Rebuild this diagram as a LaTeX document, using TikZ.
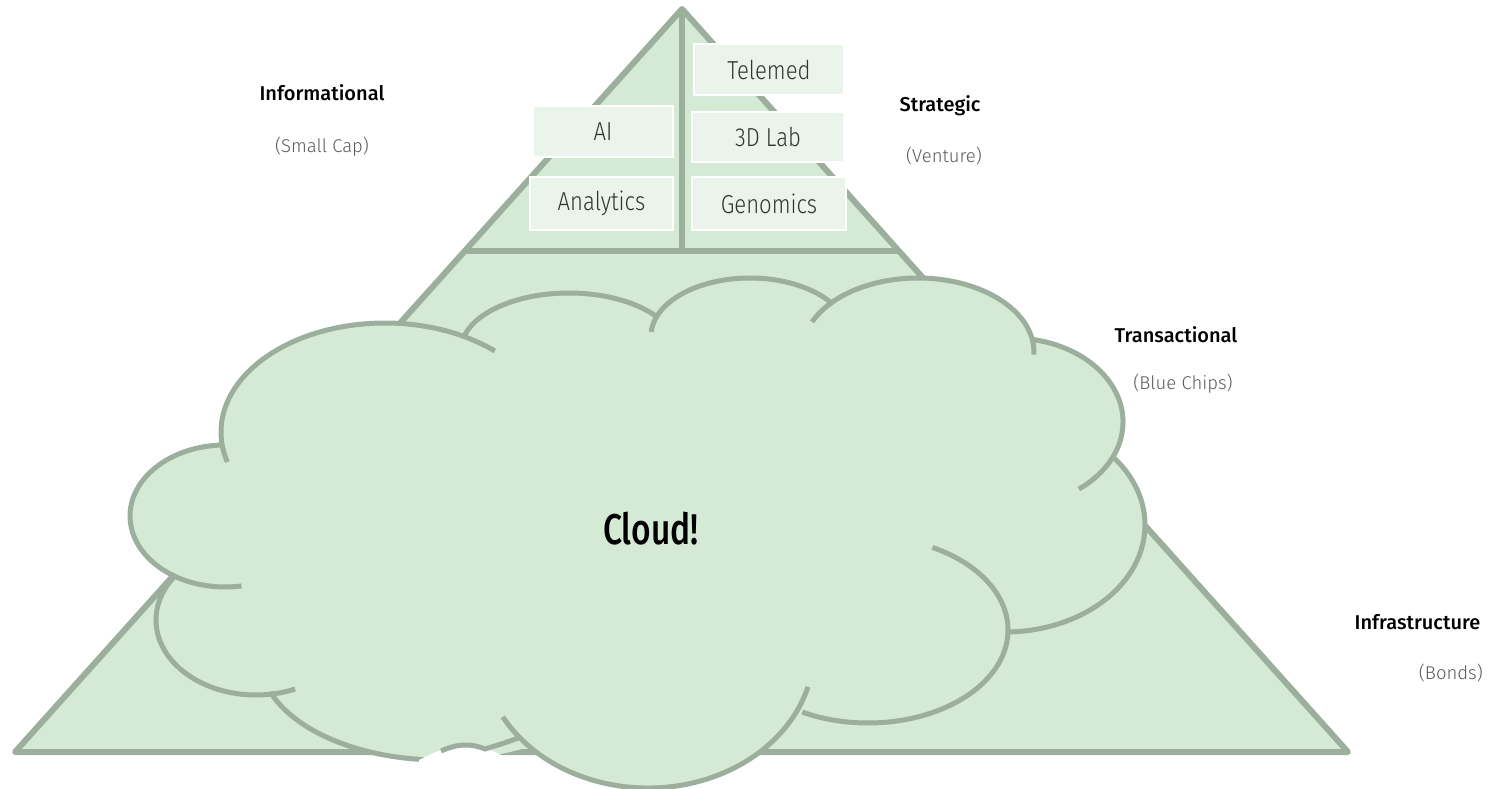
\documentclass[tikz,border=0pt]{standalone}
\usepackage{fontspec}
\setmainfont{Fira Sans}
\newfontfamily\lightfont{Fira Sans Light}
\newfontfamily\boxfont{Fira Sans Light}[FakeStretch=0.85]
\newfontfamily\medfont{Fira Sans Medium}
\newfontfamily\cloudfont{Fira Sans Medium}[FakeStretch=0.78]
\usetikzlibrary{calc}
\definecolor{lineg}{HTML}{9BAF9C}
\definecolor{fillg}{HTML}{D4EAD5}
\definecolor{boxg}{HTML}{EAF4EA}
\definecolor{textg}{HTML}{333333}
\definecolor{subg}{HTML}{5A5A5A}
\newcommand\cloudarc[6]{\draw[cloudline] ([shift={(#1,#2)}]#5:#3 and #4) arc[start angle=#5, end angle=#6, x radius=#3, y radius=#4];}
\newcommand\cloudfill[4]{\fill[fillg] (#1,#2) ellipse [x radius=#3, y radius=#4];}
\begin{document}
\begin{tikzpicture}[x=1pt,y=-1pt,
  edge/.style={draw=lineg, line width=6pt, line join=round},
  blk/.style={fill=boxg, draw=white, line width=2pt, inner sep=0pt, text=textg,
    font=\boxfont\fontsize{26}{26}\selectfont},
  head/.style={font=\medfont\fontsize{20}{20}\selectfont, text=black, inner sep=0pt},
  sub/.style={font=\lightfont\fontsize{18.5}{18.5}\selectfont, text=subg, inner sep=0pt},
  cloudline/.style={draw=lineg, line width=5pt}]
\useasboundingbox (0,0) rectangle (1488,789);
% pyramid
\coordinate (apex) at (682,9);
\coordinate (bl) at (15,752);
\coordinate (br) at (1348,752);
\filldraw[edge, fill=fillg] (apex) -- (bl) -- (br) -- cycle;
\coordinate (ml) at ($(apex)!0.3257!(bl)$);
\coordinate (mr) at ($(apex)!0.3257!(br)$);
\coordinate (mc) at (682,251);
\draw[edge] (ml) -- (mr);
\draw[edge] (apex) -- (mc);
% boxes
\node[blk, minimum width=150pt, minimum height=51pt] (telemed) at (769,69.5) {Telemed};
\node[blk, minimum width=140pt, minimum height=51pt] (ai) at (603,131.5) {AI};
\node[blk, minimum width=152pt, minimum height=50pt] (lab) at (768,137) {3D Lab};
\node[blk, minimum width=143pt, minimum height=53pt] (analytics) at (601.5,203.5) {Analytics};
\node[blk, minimum width=154pt, minimum height=53pt] (genomics) at (769,203.5) {Genomics};
% labels
\node[head] (info) at (322,92.5) {Informational};
\node[sub] (infos) at (322,146.5) {(Small Cap)};
\node[head] (strat) at (940,106) {Strategic};
\node[sub] (strats) at (944,156) {(Venture)};
\node[head] (trans) at (1176,335) {Transactional};
\node[sub] (transs) at (1183,383.5) {(Blue Chips)};
\node[head] (infra) at (1417.5,622.5) {Infrastructure};
\node[sub, anchor=east] (infras) at (1483,673.5) {(Bonds)};
% cloud fill
\cloudfill{225}{516}{95}{71}
\cloudfill{385}{432}{164}{109}
\cloudfill{569}{350}{108}{57}
\cloudfill{750}{336}{99}{58}
\cloudfill{918}{352}{116}{74}
\cloudfill{1012}{422}{111}{84}
\cloudfill{1005}{525}{140}{107}
\cloudfill{868}{630}{140}{93}
\cloudfill{648}{650}{166}{138}
\cloudfill{440}{658}{180}{102}
\cloudfill{256}{620}{100}{75}
\fill[fillg] (222,447) -- (463,337) -- (657,317) -- (832,305) -- (1032,342) -- (1112,458)
  -- (1010,632) -- (803,710) -- (518,738) -- (430,757) -- (270,692) -- (174,573) -- cycle;
% cloud outline
\cloudarc{225}{516}{95}{71}{-92}{-280}
\cloudarc{385}{432}{164}{109}{-196}{-48}
\cloudarc{569}{350}{108}{57}{-167}{-35}
\cloudarc{750}{336}{99}{58}{-176}{-33}
\cloudarc{918}{352}{116}{74}{-156}{2}
\cloudarc{1012}{422}{111}{84}{-79}{53}
\cloudarc{1005}{525}{140}{107}{-39}{88}
\cloudarc{868}{630}{140}{93}{-62.6}{118}
\cloudarc{648}{650}{166}{138}{-209}{-344.5}
\cloudarc{440}{658}{180}{102}{-199.5}{-265}
\cloudarc{256}{620}{100}{75}{-143}{-293}
% notch at the bottom
\fill[white] (419,789) -- (419,760) .. controls (435,752) and (450,745) .. (466,745)
  .. controls (480,745) and (492,750) .. (503,756) -- (503,789) -- cycle;
\draw[cloudline] (441,751) .. controls (450,747) and (458,745) .. (466,745)
  .. controls (474,745) and (480,747) .. (485,749) .. controls (495,746) and (508,742) .. (518,738);
\node[font=\cloudfont\fontsize{43}{43}\selectfont, text=black, inner sep=0pt] (cloudtxt) at (651,528.5) {Cloud!};
\end{tikzpicture}
\end{document}
